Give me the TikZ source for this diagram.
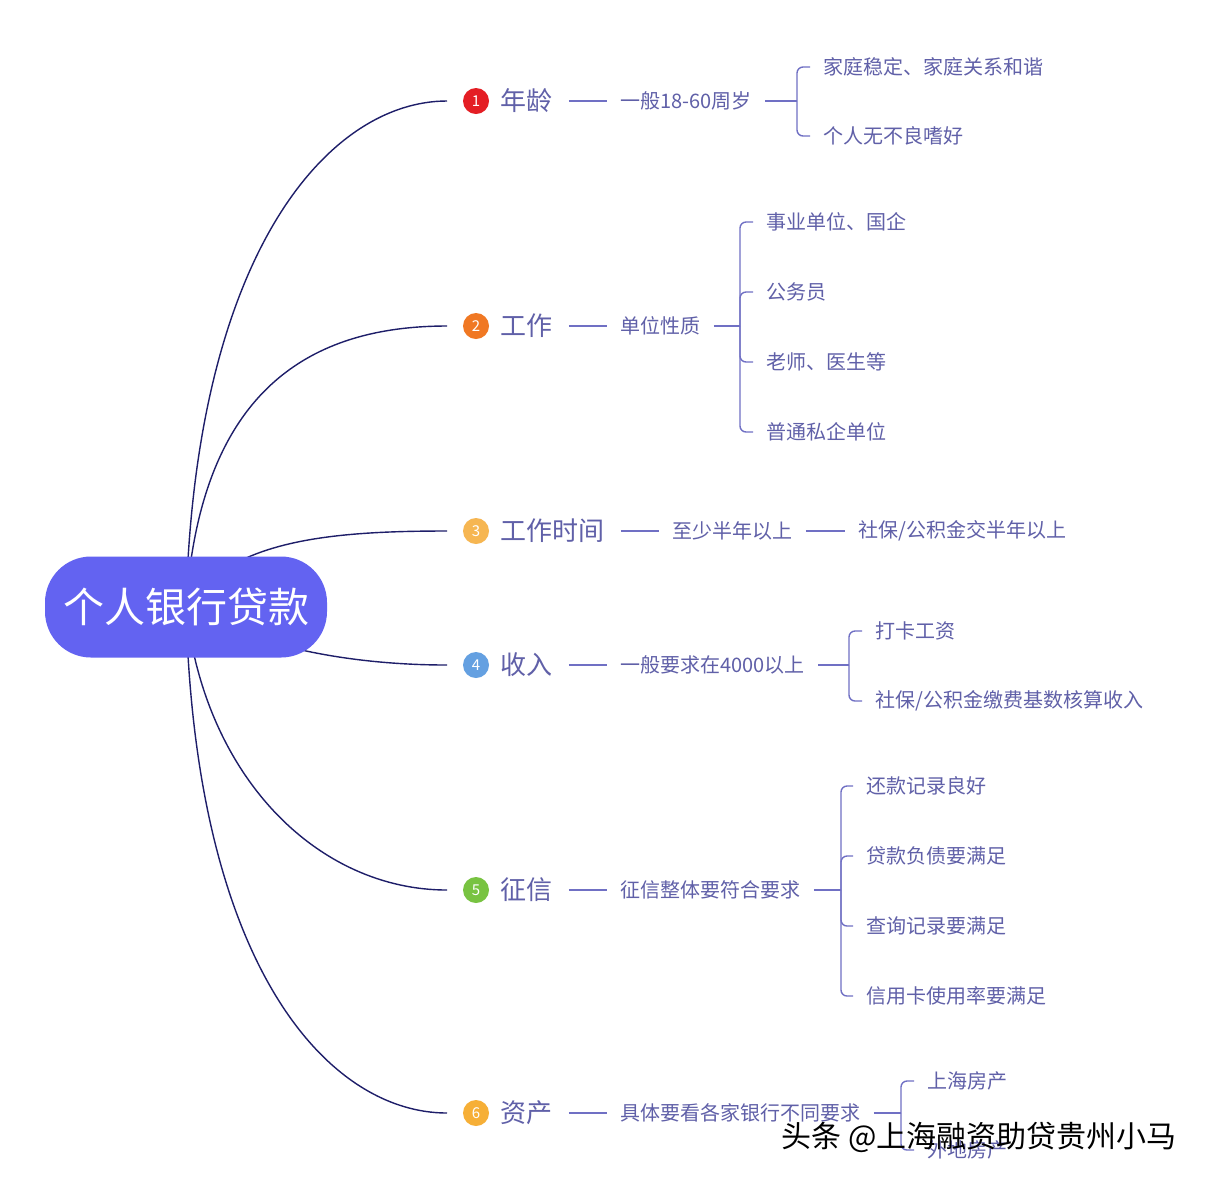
\documentclass[tikz,border=0pt]{standalone}
\usepackage{fontspec}
\setmainfont{Noto Sans CJK SC}
\usepackage{xcolor}
\usetikzlibrary{positioning}
\definecolor{mapRoot}{RGB}{99,99,241}
\definecolor{mapNavy}{RGB}{30,30,105}
\definecolor{mapLink}{RGB}{112,112,196}
\definecolor{mapText}{RGB}{96,96,168}
\definecolor{mapRed}{RGB}{228,30,36}
\definecolor{mapOrange}{RGB}{240,120,35}
\definecolor{mapSand}{RGB}{246,182,82}
\definecolor{mapBlue}{RGB}{100,160,225}
\definecolor{mapGreen}{RGB}{120,195,65}
\definecolor{mapAmber}{RGB}{246,175,55}
\pgfdeclarelayer{background}
\pgfsetlayers{background,main}

\begin{document}
\begin{tikzpicture}[
  x=0.5pt,y=-0.5pt,
  font=\fontsize{10pt}{12pt}\selectfont,
  rootbox/.style={fill=mapRoot,text=white,rounded corners=23pt,minimum width=141pt,minimum height=50.5pt,inner sep=0pt,font=\fontsize{20.5pt}{24pt}\selectfont},
  badge/.style={circle,inner sep=0pt,minimum size=13pt,outer sep=8pt,text=white,font=\fontsize{7.5pt}{8pt}\selectfont},
  topic/.style={anchor=west,inner ysep=0pt,inner xsep=8pt,text=mapText,font=\fontsize{13pt}{15pt}\selectfont},
  detail/.style={anchor=west,inner ysep=0pt,inner xsep=6.5pt,text=mapText},
  branch/.style={draw=mapNavy,line width=0.7pt},
  link/.style={draw=mapLink,line width=0.7pt},
  fork/.style={link,rounded corners=3pt},
  stamp/.style={text=black,font=\fontsize{15pt}{18pt}\selectfont}
]
\useasboundingbox (0,0) rectangle (1209,1180);

\node[rootbox] (root) at (186,607) {个人银行贷款};

% branch 1
\node[badge,fill=mapRed] (n1) at (476,101) {1};
\node[topic] (age) at (484,101) {年龄};
\node[detail] (agereq) at (607,101) {一般18-60周岁};
\coordinate (j1) at (797,101);
\node[detail] (agea) at (810,67) {家庭稳定、家庭关系和谐};
\node[detail] (ageb) at (810,136) {个人无不良嗜好};

% branch 2
\node[badge,fill=mapOrange] (n2) at (476,326) {2};
\node[topic] (job) at (484,326) {工作};
\node[detail] (jobtype) at (607,326) {单位性质};
\coordinate (j2) at (740,326);
\node[detail] (joba) at (753,222) {事业单位、国企};
\node[detail] (jobb) at (753,292) {公务员};
\node[detail] (jobc) at (753,362) {老师、医生等};
\node[detail] (jobd) at (753,432) {普通私企单位};

% branch 3
\node[badge,fill=mapSand] (n3) at (476,531) {3};
\node[topic] (tenure) at (484,531) {工作时间};
\node[detail] (tenuremin) at (659,531) {至少半年以上};
\node[detail] (tenurefund) at (845,531) {社保/公积金交半年以上};

% branch 4
\node[badge,fill=mapBlue] (n4) at (476,665) {4};
\node[topic] (income) at (484,665) {收入};
\node[detail] (incomemin) at (607,665) {一般要求在4000以上};
\coordinate (j4) at (849,665);
\node[detail] (incomea) at (862,631) {打卡工资};
\node[detail] (incomeb) at (862,701) {社保/公积金缴费基数核算收入};

% branch 5
\node[badge,fill=mapGreen] (n5) at (476,890) {5};
\node[topic] (credit) at (484,890) {征信};
\node[detail] (creditreq) at (607,890) {征信整体要符合要求};
\coordinate (j5) at (841,890);
\node[detail] (credita) at (853,786) {还款记录良好};
\node[detail] (creditb) at (853,856) {贷款负债要满足};
\node[detail] (creditc) at (853,926) {查询记录要满足};
\node[detail] (creditd) at (853,996) {信用卡使用率要满足};

% branch 6
\node[badge,fill=mapAmber] (n6) at (476,1113) {6};
\node[topic] (assets) at (484,1113) {资产};
\node[detail] (assetreq) at (607,1113) {具体要看各家银行不同要求};
\coordinate (j6) at (901,1113);
\node[detail] (assetsa) at (914,1081) {上海房产};
\node[detail] (assetsb) at (914,1150) {外地房产};

\begin{pgfonlayer}{background}
\fill[white] (0,0) rectangle (1209,1180);
\draw[branch] (root.center) .. controls (195,250) and (330,101) .. (n1.west);
\draw[branch] (root.center) .. controls (200,400) and (300,326) .. (n2.west);
\draw[branch] (root.center) .. controls (230,540) and (330,531) .. (n3.west);
\draw[branch] (root.center) .. controls (260,650) and (360,665) .. (n4.west);
\draw[branch] (root.center) .. controls (205,780) and (320,890) .. (n5.west);
\draw[branch] (root.center) .. controls (195,970) and (330,1113) .. (n6.west);
\end{pgfonlayer}

\draw[link] (age.east) -- (agereq.west);
\draw[link] (agereq.east) -- (j1);
\draw[fork] (j1) |- (agea.west);
\draw[fork] (j1) |- (ageb.west);

\draw[link] (job.east) -- (jobtype.west);
\draw[link] (jobtype.east) -- (j2);
\foreach \c in {joba,jobb,jobc,jobd}
  \draw[fork] (j2) |- (\c.west);

\draw[link] (tenure.east) -- (tenuremin.west);
\draw[link] (tenuremin.east) -- (tenurefund.west);

\draw[link] (income.east) -- (incomemin.west);
\draw[link] (incomemin.east) -- (j4);
\draw[fork] (j4) |- (incomea.west);
\draw[fork] (j4) |- (incomeb.west);

\draw[link] (credit.east) -- (creditreq.west);
\draw[link] (creditreq.east) -- (j5);
\foreach \c in {credita,creditb,creditc,creditd}
  \draw[fork] (j5) |- (\c.west);

\draw[link] (assets.east) -- (assetreq.west);
\draw[link] (assetreq.east) -- (j6);
\draw[fork] (j6) |- (assetsa.west);
\draw[fork] (j6) |- (assetsb.west);

\node[stamp] (wmark) at (979,1137) {头条 @上海融资助贷贵州小马};
\end{tikzpicture}
\end{document}
